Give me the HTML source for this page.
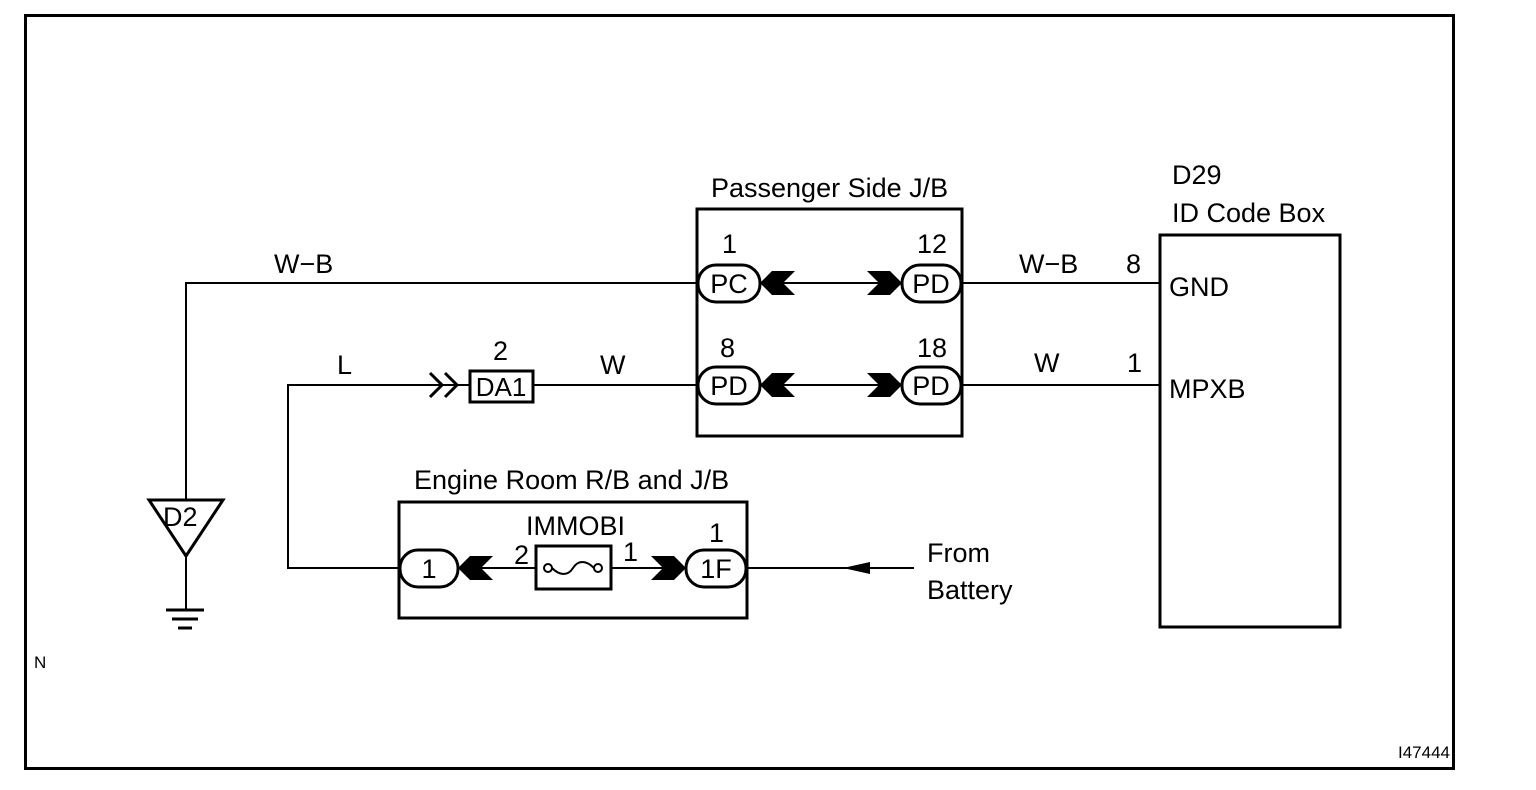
<!DOCTYPE html>
<html><head><style>html,body{margin:0;padding:0;background:#fff}svg{display:block}text{font-family:"Liberation Sans",Arial,sans-serif;fill:#000}</style></head>
<body>
<svg width="1536" height="790" viewBox="0 0 1536 790" xmlns="http://www.w3.org/2000/svg">
<defs>
<polygon id="cl" points="0,0 12,-12 35,-12 23,0 35,12 12,12"/>
<polygon id="cr" points="0,0 -12,-12 -35,-12 -23,0 -35,12 -12,12"/>
</defs>
<rect x="25.5" y="15.5" width="1428" height="753" fill="none" stroke="#000" stroke-width="3"/>
<g stroke="#000" stroke-width="2" fill="none">
<polyline points="186,499 186,283 697,283"/>
<line x1="760" y1="283" x2="902" y2="283"/>
<line x1="962" y1="283" x2="1160" y2="283"/>
<line x1="533" y1="385" x2="697" y2="385"/>
<line x1="760" y1="385" x2="902" y2="385"/>
<line x1="962" y1="385" x2="1160" y2="385"/>
<polyline points="470,385 288,385 288,568 400,568"/>
<line x1="458" y1="568" x2="535" y2="568"/>
<line x1="611" y1="568" x2="686" y2="568"/>
<line x1="747" y1="568" x2="914" y2="568"/>
<line x1="186" y1="556" x2="186" y2="610"/>
<polyline points="430,373 442,385 430,397" stroke-width="3"/>
<polyline points="445,373 457,385 445,397" stroke-width="3"/>
</g>
<g stroke="#000" stroke-width="3" fill="none">
<rect x="697" y="209" width="265" height="227"/>
<rect x="1160" y="235" width="180" height="392"/>
<rect x="399" y="502" width="348" height="116"/>
<rect x="470" y="371" width="63" height="31"/>
<rect x="536" y="546" width="75" height="43"/>
<polygon points="149,500 223,500 186,556"/>
</g>
<g stroke="#000" stroke-width="3" fill="#fff">
<rect x="698" y="265" width="62" height="37" rx="18"/>
<rect x="902" y="265" width="59" height="37" rx="18"/>
<rect x="698" y="367" width="62" height="37" rx="18"/>
<rect x="902" y="367" width="59" height="37" rx="18"/>
<rect x="400" y="550" width="58" height="37" rx="18"/>
<rect x="686" y="550" width="60" height="37" rx="18"/>
</g>
<g stroke="#000" stroke-width="3">
<line x1="166" y1="610" x2="204" y2="610"/>
<line x1="172" y1="619" x2="198" y2="619"/>
<line x1="178" y1="628" x2="192" y2="628"/>
</g>
<g fill="#000">
<use href="#cl" x="760" y="283"/><use href="#cr" x="902" y="283"/>
<use href="#cl" x="760" y="385"/><use href="#cr" x="902" y="385"/>
<use href="#cl" x="458" y="568"/><use href="#cr" x="686" y="568"/>
<polygon points="843,568 870,562 870,574"/>
</g>
<g stroke="#000" stroke-width="2" fill="#fff">
<circle cx="548" cy="568" r="4"/><circle cx="598" cy="568" r="4"/>
<path d="M552,568 C560,576 568,576 573,568 C578,560 586,560 594,568" fill="none"/>
</g>
<g font-size="27">
<text x="711" y="197">Passenger Side J/B</text>
<text x="1172" y="184">D29</text>
<text x="1172" y="222">ID Code Box</text>
<text x="274" y="273">W−B</text>
<text x="1019" y="273">W−B</text>
<text x="1126" y="273">8</text>
<text x="1169" y="296">GND</text>
<text x="1169" y="398">MPXB</text>
<text x="1034" y="372">W</text>
<text x="1127" y="372">1</text>
<text x="337" y="374">L</text>
<text x="600" y="374">W</text>
<text x="493" y="360">2</text>
<text x="501" y="396" text-anchor="middle" font-size="26">DA1</text>
<text x="722" y="253">1</text>
<text x="917" y="253">12</text>
<text x="720" y="357">8</text>
<text x="917" y="357">18</text>
<g text-anchor="middle">
<text x="729" y="293">PC</text>
<text x="931" y="293">PD</text>
<text x="729" y="395">PD</text>
<text x="931" y="395">PD</text>
<text x="429" y="578">1</text>
<text x="716" y="578">1F</text>
</g>
<text x="414" y="489">Engine Room R/B and J/B</text>
<text x="526" y="535">IMMOBI</text>
<text x="514" y="564">2</text>
<text x="623" y="561">1</text>
<text x="709" y="542">1</text>
<text x="927" y="562">From</text>
<text x="927" y="599">Battery</text>
<text x="163" y="526">D2</text>
</g>
<text x="34" y="668" font-size="17">N</text>
<text x="1398" y="758" font-size="17">I47444</text>
</svg>
</body></html>
